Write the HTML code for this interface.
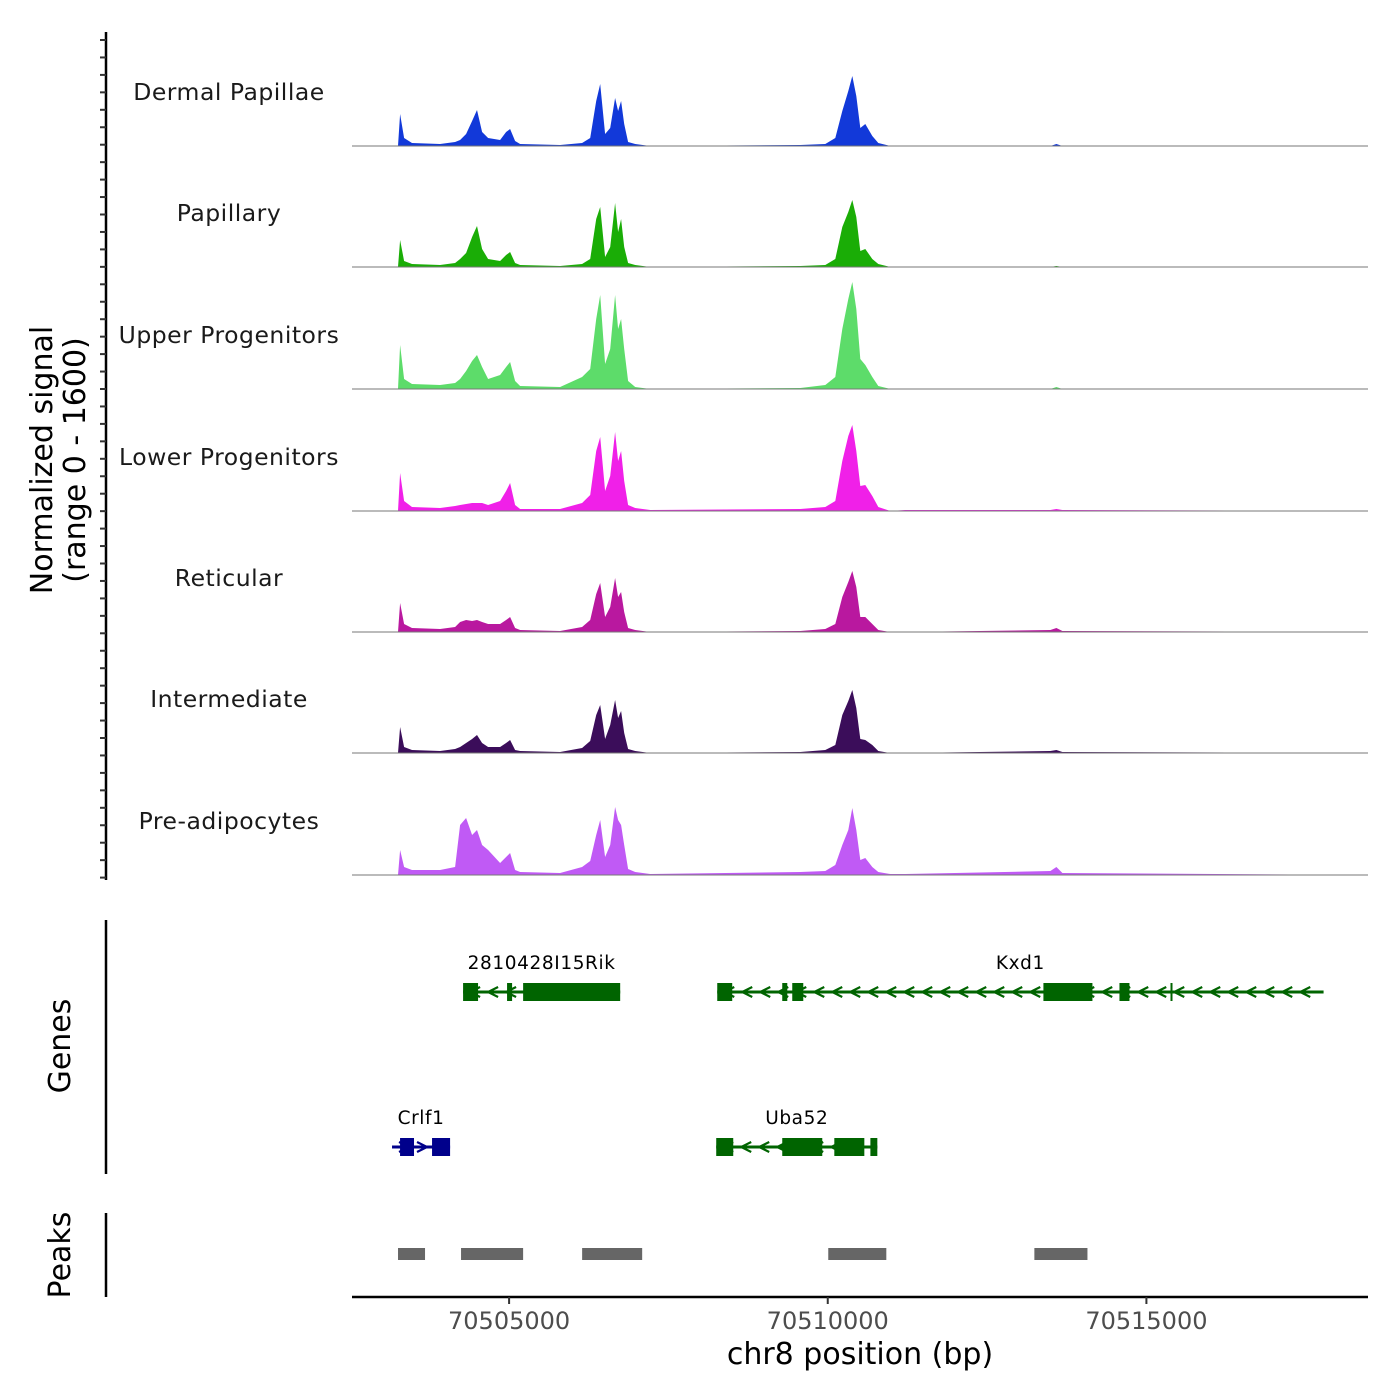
<!DOCTYPE html>
<html><head><meta charset="utf-8"><style>
html,body{margin:0;padding:0;background:#fff;}
svg{display:block;font-family:"DejaVu Sans","Liberation Sans",sans-serif;}
</style></head><body>
<svg id="chart" width="1400" height="1400" viewBox="0 0 1400 1400" xmlns="http://www.w3.org/2000/svg"></svg>
<script>
// ---- data ----
const xStart = 70502535, xEnd = 70518477;
const positions = [70502535,70503257,70503289,70503352,70503477,70503917,70504152,70504231,70504325,70504419,70504497,70504576,70504670,70504859,70504953,70505016,70505094,70505173,70505801,70506146,70506272,70506366,70506429,70506507,70506586,70506664,70506711,70506758,70506806,70506868,70506978,70507214,70509569,70509961,70510118,70510228,70510322,70510385,70510448,70510511,70510589,70510699,70510793,70510981,70511217,70513494,70513588,70513682,70518477];
const trackNames = ["Dermal Papillae","Papillary","Upper Progenitors","Lower Progenitors","Reticular","Intermediate","Pre-adipocytes"];
const trackColors = ["#1239d9","#1aad06","#5ddc6a","#f020e8","#b9189f","#3b0d5a","#c05af5"];
const sigDP = [0,0,32,8,3,2,4,6,12,25,36,14,8,6,14,17,5,2,1,3,8,45,62,12,18,48,35,45,22,4,2,0,1,2,8,35,55,70,50,18,22,10,3,0,0,0,2,0,0];
const sigPap = [0,0,27,6,3,2,4,8,14,30,41,18,8,6,12,15,4,2,1,3,8,48,60,10,20,64,35,48,20,4,2,0,1,2,8,40,55,67,50,16,18,8,3,0,0,0,1,0,0];
const sigUp = [0,0,44,10,5,4,6,10,18,28,34,22,10,14,22,27,8,3,2,12,20,70,94,25,40,94,60,70,40,8,2,0,1,4,12,60,90,107,80,30,24,12,3,0,0,0,2,0,0];
const sigLow = [0,0,38,10,4,3,5,6,7,8,8,8,6,10,20,28,6,2,2,8,16,60,74,20,35,79,50,60,30,6,3,1,2,4,10,50,75,86,60,25,26,15,4,0,1,1,2,1,0];
const sigRet = [0,0,29,8,4,3,5,10,12,11,12,10,8,8,12,15,4,2,1,5,12,38,49,15,25,54,35,40,20,4,2,0,1,3,8,35,50,61,45,15,15,8,2,0,0,2,4,1,0];
const sigInt = [0,0,26,6,3,2,4,6,10,14,18,10,6,6,10,13,3,2,1,5,12,38,48,14,28,53,35,42,20,4,2,0,1,3,8,38,52,63,45,14,13,8,2,0,0,2,3,1,0];
const sigPre = [0,0,25,8,5,5,8,50,57,40,45,30,25,12,18,22,5,3,2,8,14,40,55,18,30,68,55,50,30,6,3,1,3,4,10,30,45,67,45,15,17,8,3,1,1,4,8,2,0];
const signalMax = 121;
const xTicks = [70505000,70510000,70515000];
const peakStarts = [70503257,70504246,70506146,70510008,70513242];
const peakEnds = [70503681,70505220,70507088,70510919,70514075];
const geneNames = ["2810428I15Rik","Kxd1","Crlf1","Uba52"];
const geneStarts = [70504278,70508266,70503163,70508250];
const geneEnds = [70506743,70517780,70504074,70510778];
const geneRows = [0,0,1,1];
const geneStrand = [-1,-1,1,-1];
const geneColors = ["#006400","#006400","#00008b","#006400"];
const exonGene = [0,0,0,1,1,1,1,1,1,2,2,3,3,3,3];
const exonStarts = [70504278,70504968,70505220,70508266,70509286,70509443,70513384,70514577,70515378,70503289,70503791,70508250,70509286,70510103,70510669];
const exonEnds = [70504513,70505047,70506743,70508501,70509365,70509616,70514153,70514734,70515400,70503508,70504074,70508517,70509914,70510574,70510778];

// ---- scales ----
const X0 = 352, X1 = 1368;
const xs = v => X0 + (v - xStart) / (xEnd - xStart) * (X1 - X0);
const baselines = [146,267,389,511,632,753,875];
const trackH = 121;
const ys = (v, i) => baselines[i] - v / signalMax * trackH;
const signals = [sigDP,sigPap,sigUp,sigLow,sigRet,sigInt,sigPre];

const svg = document.getElementById('chart');
const NS = 'http://www.w3.org/2000/svg';
function mk(tag, attrs, parent){const e=document.createElementNS(NS,tag);for(const k in attrs)e.setAttribute(k,attrs[k]);(parent||svg).appendChild(e);return e;}

// signal tracks
signals.forEach((s,i)=>{
  const g = mk('g',{});
  
  
  let d = 'M'+xs(positions[0])+','+baselines[i];
  s.forEach((v,j)=>{ d += ' L'+xs(positions[j]).toFixed(1)+','+ys(v,i).toFixed(1); });
  d += ' L'+xs(positions[positions.length-1])+','+baselines[i]+' Z';
  const p = mk('path',{d:d,fill:trackColors[i]},g);
  
  
  const bl = mk('line',{x1:X0,x2:X1,y1:baselines[i],y2:baselines[i],stroke:'#777','stroke-width':1},g);
  
  
  const t = mk('text',{x:229,y:baselines[i]-46,'text-anchor':'middle','font-size':23.5,fill:'#1a1a1a','letter-spacing':'0.5'},g);
  t.textContent = trackNames[i];
  
  
});

// left signal axis
const ax = mk('line',{x1:106,x2:106,y1:32,y2:880,stroke:'#000','stroke-width':2.5});


for(let y=40;y<=878;y+=17.45){
  const tk=mk('line',{x1:100,x2:106,y1:y,y2:y,stroke:'#333','stroke-width':2});
  
  
}
const yt = mk('text',{transform:'translate(52,460) rotate(-90)','text-anchor':'middle','font-size':30,fill:'#000'});


yt.innerHTML = '<tspan x="0" dy="0">Normalized signal</tspan><tspan x="0" dy="33">(range 0 - 1600)</tspan>';

// genes
const gAx = mk('line',{x1:106,x2:106,y1:920,y2:1174,stroke:'#000','stroke-width':2.5});


const gt = mk('text',{transform:'translate(70,1046) rotate(-90)','text-anchor':'middle','font-size':30,fill:'#000'});
gt.textContent='Genes';


const rowY = [992,1147];
geneNames.forEach((n,i)=>{
  const g = mk('g',{});
  
  
  const y = rowY[geneRows[i]], c = geneColors[i];
  const a = xs(geneStarts[i]), b = xs(geneEnds[i]);
  mk('line',{x1:a,x2:b,y1:y,y2:y,stroke:c,'stroke-width':3},g);
  for(let x=a+12;x<b-6;x+=18){
    const dx = geneStrand[i]*5;
    mk('polyline',{points:(x-dx)+','+(y-5)+' '+(x+dx)+','+y+' '+(x-dx)+','+(y+5),fill:'none',stroke:c,'stroke-width':2.2},g);
  }
  const t = mk('text',{x:(a+b)/2,y:y-23,'text-anchor':'middle','font-size':18.5,fill:'#000','letter-spacing':'0.6'},g);
  t.textContent = n;
  
  
});
exonStarts.forEach((s,k)=>{
  const gi = exonGene[k], y = rowY[geneRows[gi]];
  const a = xs(s), b = xs(exonEnds[k]);
  const r = mk('rect',{x:a,y:y-9,width:Math.max(2,b-a),height:18,fill:geneColors[gi]});
  
  
});

// peaks
const pAx = mk('line',{x1:106,x2:106,y1:1213,y2:1297,stroke:'#000','stroke-width':2.5});


const pt = mk('text',{transform:'translate(70,1255) rotate(-90)','text-anchor':'middle','font-size':30,fill:'#000'});
pt.textContent='Peaks';


peakStarts.forEach((s,k)=>{
  const r = mk('rect',{x:xs(s),y:1248,width:xs(peakEnds[k])-xs(s),height:12,fill:'#666'});
  
  
});

// x axis
const xa = mk('line',{x1:X0,x2:X1,y1:1297,y2:1297,stroke:'#000','stroke-width':2.5});


xTicks.forEach(v=>{
  const tk = mk('line',{x1:xs(v),x2:xs(v),y1:1297,y2:1304,stroke:'#333','stroke-width':2});
  
  
  const t = mk('text',{x:xs(v),y:1329,'text-anchor':'middle','font-size':24,fill:'#4d4d4d'});
  t.textContent = v;
  
  
});
const xt = mk('text',{x:860,y:1364,'text-anchor':'middle','font-size':30,fill:'#000'});
xt.textContent='chr8 position (bp)';


</script>
</body></html>
